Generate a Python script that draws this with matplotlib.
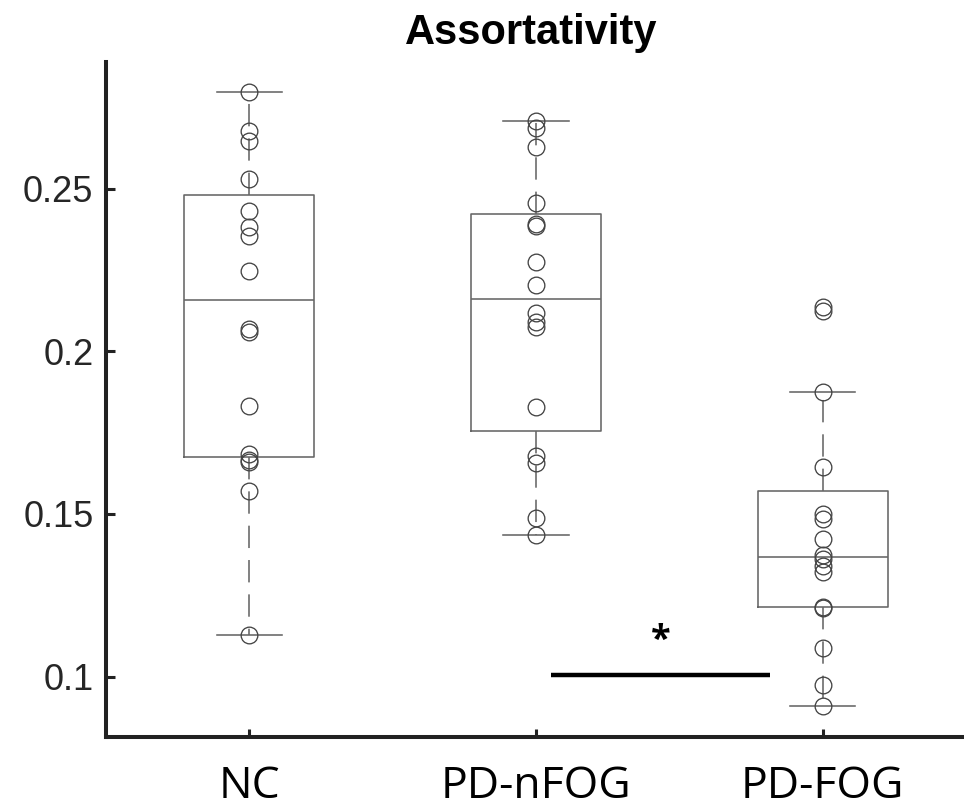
import numpy as np
import matplotlib
matplotlib.use("Agg")
import matplotlib.pyplot as plt


# -------------------------------------------------------------------------
# DATA
# -------------------------------------------------------------------------
GROUPS = ["NC", "PD-nFOG", "PD-FOG"]

nc = [0.2798, 0.2678, 0.2648, 0.2531, 0.2432, 0.2384, 0.2356, 0.2246,
      0.2068, 0.2061, 0.1833, 0.1684, 0.1666, 0.1659, 0.1572, 0.1128]

pd_nfog = [0.2708, 0.2686, 0.2629, 0.2455, 0.2392, 0.2387, 0.2274, 0.2203,
           0.2117, 0.2089, 0.2076, 0.1829, 0.1679, 0.1656, 0.1489, 0.1435]

pd_fog = [0.2138, 0.2125, 0.1875, 0.1644, 0.1500, 0.1485, 0.1422, 0.1375,
          0.1360, 0.1340, 0.1322, 0.1215, 0.1210, 0.1089, 0.0975, 0.0910]

YTICKS = [0.1, 0.15, 0.2, 0.25]
YTICK_LABELS = ["0.1", "0.15", "0.2", "0.25"]

# significance bar between PD-nFOG and PD-FOG
SIG_X = [2.054, 2.818]
SIG_Y = 0.1005
SIG_LABEL = "*"

BOX_GRAY = "#666666"
DOT_GRAY = "#444444"
AXIS_COLOR = "#222222"


def matlab_stats(values, label):
    """Box stats like MATLAB boxplot: hazen percentiles, 1.5 IQR whiskers."""
    v = np.asarray(values, dtype=float)
    q1, med, q3 = np.percentile(v, [25, 50, 75], method="hazen")
    iqr = q3 - q1
    inside = v[(v >= q1 - 1.5 * iqr) & (v <= q3 + 1.5 * iqr)]
    return {
        "label": label,
        "med": med,
        "q1": q1,
        "q3": q3,
        "whislo": inside.min(),
        "whishi": inside.max(),
        "fliers": [],
    }


fig = plt.figure(figsize=(9.64, 8.08), dpi=100)
ax = fig.add_axes([106 / 964, 71 / 808, 860 / 964, 675 / 808])

series = [nc, pd_nfog, pd_fog]
positions = [1, 2, 3]
stats = [matlab_stats(s, g) for s, g in zip(series, GROUPS)]

ax.bxp(
    stats,
    positions=positions,
    widths=0.454,
    showfliers=False,
    boxprops=dict(color=BOX_GRAY, linewidth=1.15),
    whiskerprops=dict(color=BOX_GRAY, linewidth=1.15, linestyle=(0, (14, 7.5))),
    capprops=dict(color=BOX_GRAY, linewidth=1.15),
    medianprops=dict(color=BOX_GRAY, linewidth=1.15),
)

# individual subjects as open circles
for pos, s in zip(positions, series):
    ax.plot([pos] * len(s), s, linestyle="none", marker="o", markersize=12,
            markerfacecolor="none", markeredgecolor=DOT_GRAY,
            markeredgewidth=0.95, zorder=3)

ax.plot(SIG_X, [SIG_Y, SIG_Y], color="black", linewidth=3.2,
        solid_capstyle="butt")
ax.text(np.mean(SIG_X), SIG_Y + 0.0105, SIG_LABEL, ha="center", va="center",
        fontsize=26, fontweight="bold", family="Open Sans")

ax.set_xlim(0.5, 3.5)
ax.set_ylim(0.0814, 0.289)

ax.set_yticks(YTICKS)
ax.set_yticklabels(YTICK_LABELS, family="Liberation Sans", fontsize=26,
                   color="#262626")
ax.set_xticks(positions)
ax.set_xticklabels(GROUPS, family="Open Sans", fontsize=32, color="black")

ax.tick_params(axis="y", direction="in", length=6.5, width=2.2,
               color=AXIS_COLOR, pad=9)
ax.tick_params(axis="x", direction="in", length=6, width=2.2,
               color=AXIS_COLOR, pad=20)

for side in ["top", "right"]:
    ax.spines[side].set_visible(False)
for side in ["left", "bottom"]:
    ax.spines[side].set_linewidth(2.9)
    ax.spines[side].set_color(AXIS_COLOR)

ax.set_title("Assortativity", family="Liberation Sans", fontweight="bold",
             fontsize=30, pad=13, x=0.494)

fig.savefig("out.png", dpi=100)
